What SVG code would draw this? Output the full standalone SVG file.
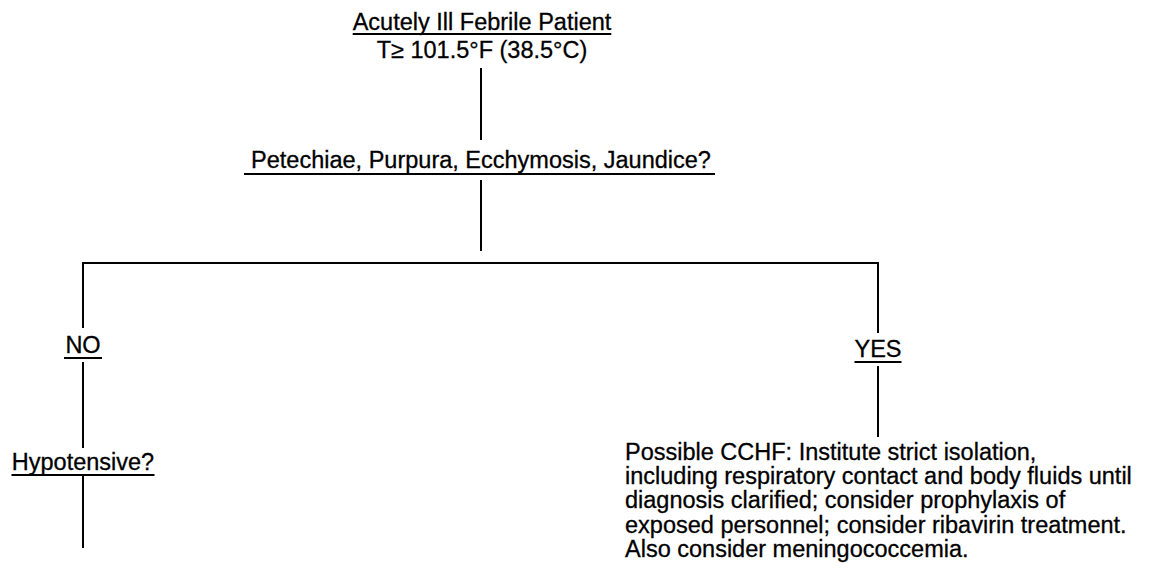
<svg xmlns="http://www.w3.org/2000/svg" width="1151" height="580" viewBox="0 0 1151 580">
<style>
  text { font-family: "Liberation Sans", Arial, Helvetica, sans-serif; font-size: 23.5px; fill: #000; stroke: #000; stroke-width: 0.3px; }
  .c { text-anchor: middle; }
  .edge { stroke: #000; stroke-width: 2; fill: none; }
  .ul { stroke: #000; stroke-width: 1.8; }
</style>
<rect width="1151" height="580" fill="#ffffff"/>
<g id="connectors">
  <line class="edge" x1="481" y1="68" x2="481" y2="140"/>
  <line class="edge" x1="481" y1="180" x2="481" y2="251"/>
  <polyline class="edge" points="83,328 83,263 878,263 878,333"/>
  <line class="edge" x1="83" y1="362" x2="83" y2="448"/>
  <line class="edge" x1="83" y1="476" x2="83" y2="548"/>
  <line class="edge" x1="878" y1="366" x2="878" y2="437"/>
</g>
<g id="node-start">
  <text class="c" x="482" y="30">Acutely Ill Febrile Patient</text>
  <line class="ul" x1="352.7" y1="34" x2="611.3" y2="34"/>
  <text class="c" x="482" y="58">T≥ 101.5°F (38.5°C)</text>
</g>
<g id="node-question">
  <text class="c" x="481" y="168">Petechiae, Purpura, Ecchymosis, Jaundice?</text>
  <line class="ul" x1="244" y1="174" x2="715" y2="174"/>
</g>
<g id="node-no">
  <text class="c" x="83" y="353">NO</text>
  <line class="ul" x1="64" y1="358" x2="102" y2="358"/>
</g>
<g id="node-hypotensive">
  <text class="c" x="83" y="470">Hypotensive?</text>
  <line class="ul" x1="11.5" y1="475" x2="154.5" y2="475"/>
</g>
<g id="node-yes">
  <text class="c" x="878" y="357">YES</text>
  <line class="ul" x1="854.5" y1="362" x2="901.5" y2="362"/>
</g>
<g id="node-cchf">
  <text x="625" y="460">Possible CCHF: Institute strict isolation,</text>
  <text x="625" y="484">including respiratory contact and body fluids until</text>
  <text x="625" y="508">diagnosis clarified; consider prophylaxis of</text>
  <text x="625" y="533">exposed personnel; consider ribavirin treatment.</text>
  <text x="625" y="557">Also consider meningococcemia.</text>
</g>
</svg>
